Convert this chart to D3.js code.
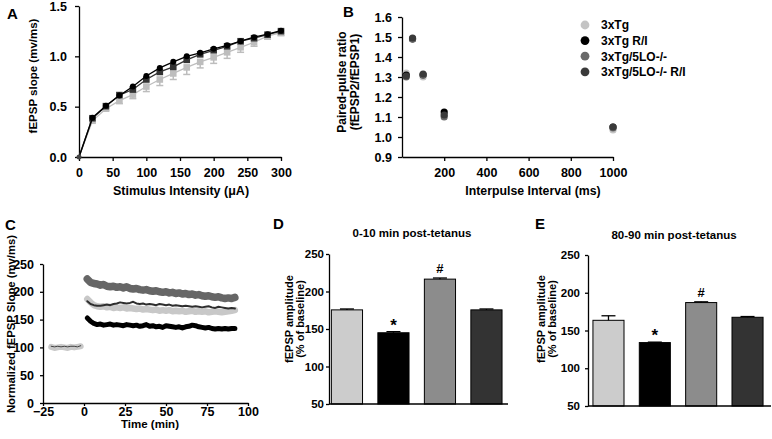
<!DOCTYPE html>
<html>
<head>
<meta charset="utf-8">
<script src="https://cdn.jsdelivr.net/npm/d3@7"></script>
<style>
body { margin: 0; background: #fff; }
svg { font-family: "Liberation Sans", Arial, sans-serif; font-weight: bold; }
.axis path, .axis line { stroke: #000; stroke-width: 1.3; }
.axis text { font-family: "Liberation Sans", Arial, sans-serif; font-weight: bold; fill: #000; }
</style>
</head>
<body>
<script>
// ---- data ----
var groups = ["3xTg", "3xTg R/I", "3xTg/5LO-/-", "3xTg/5LO-/- R/I"];

// A: input/output
var aX = [0, 20, 40, 60, 80, 100, 120, 140, 160, 180, 200, 220, 240, 260, 280, 300];
var aTg = [0, 0.36, 0.48, 0.56, 0.62, 0.70, 0.77, 0.83, 0.89, 0.945, 0.99, 1.04, 1.09, 1.14, 1.20, 1.235];
var aTgErr = [0, 0.02, 0.02, 0.03, 0.04, 0.05, 0.06, 0.06, 0.07, 0.06, 0.06, 0.06, 0.05, 0.04, 0.03, 0.03];
var aRI = [0, 0.39, 0.51, 0.61, 0.70, 0.805, 0.885, 0.945, 1.0, 1.035, 1.075, 1.11, 1.15, 1.19, 1.22, 1.255];
var aLoRI = [0, 0.385, 0.505, 0.615, 0.67, 0.77, 0.845, 0.895, 0.965, 1.02, 1.06, 1.10, 1.15, 1.18, 1.215, 1.25];

// B: paired-pulse
var bX = [20, 50, 100, 200, 1000];
var bTg = [1.32, 1.49, 1.30, 1.11, 1.035];
var bRI = [1.31, 1.49, 1.31, 1.125, 1.05];
var bLo = [1.30, 1.49, 1.31, 1.10, 1.045];
var bLoRI = [1.305, 1.495, 1.315, 1.11, 1.05];

// C: LTP time course
var cBaseT = [-20, -18, -16, -14, -12, -10, -8, -6, -4, -2];
var cBaseTg = [101, 99, 100, 101, 100, 99, 101, 100, 101, 102];
var cBaseLoRI = [102, 101, 102, 101, 102, 101, 102, 102, 101, 103];
var cT = [2, 4, 6, 8, 10, 12, 14, 16, 18, 20, 22, 24, 26, 28, 30, 32, 34, 36, 38, 40, 42, 44, 46,
          48, 50, 52, 54, 56, 58, 60, 62, 64, 66, 68, 70, 72, 74, 76, 78, 80, 82, 84, 86, 88, 90, 92];
var cLo = [223, 217, 215, 214, 212, 213, 210, 209, 210, 208, 209, 207, 209, 206, 205, 206, 204, 203, 204, 202,
           201, 202, 200, 199, 200, 198, 199, 197, 198, 196, 197, 195, 196, 194, 195, 193, 192, 193, 191, 190,
           191, 189, 188, 189, 188, 190];
var cTg = [187, 181, 176, 174, 173, 174, 172, 173, 171, 172, 171, 172, 170, 171, 170, 169, 170, 168, 169, 168,
           167, 168, 166, 167, 166, 167, 165, 166, 165, 166, 164, 165, 166, 164, 165, 164, 165, 163, 164, 165,
           164, 163, 164, 165, 166, 167];
var cLoRI = [183, 178, 176, 175, 175, 176, 177, 176, 178, 179, 181, 180, 179, 180, 182, 179, 178, 179, 177, 178,
             177, 176, 178, 177, 176, 177, 175, 176, 175, 174, 175, 174, 173, 174, 173, 172, 173, 174, 172, 171,
             173, 172, 171, 170, 171, 170];
var cRI = [153, 147, 143, 141, 142, 140, 141, 142, 140, 141, 140, 139, 141, 140, 139, 140, 138, 139, 141, 138,
           139, 137, 138, 136, 139, 138, 137, 136, 137, 135, 137, 138, 140, 139, 137, 136, 135, 136, 134, 133,
           134, 133, 134, 133, 134, 134];

// D, E: bar summaries
var dVals = [175.5, 145, 216.5, 175.5];
var dErr = [1.2, 1.5, 1.5, 1.2];
var eVals = [163.5, 134, 187, 167.5];
var eErr = [6, 0.6, 1, 1];
var dMarks = ["", "*", "#", ""];
var eMarks = ["", "*", "#", ""];

var lineCol = ["#c4c4c4", "#000000", "#6a6a6a", "#3a3a3a"];
var barCol = ["#cccccc", "#000000", "#8c8c8c", "#333333"];

var svg = d3.select("body").append("svg").attr("width", 772).attr("height", 439);

function label(x, y, txt, size, rot, anchor) {
  var t = svg.append("text").attr("font-size", size).attr("text-anchor", anchor || "middle").text(txt);
  if (rot) t.attr("transform", "translate(" + x + "," + y + ") rotate(" + rot + ")");
  else t.attr("x", x).attr("y", y);
  return t;
}

// ================= A =================
var xA = d3.scaleLinear().domain([0, 300]).range([79, 281]);
var yA = d3.scaleLinear().domain([0, 1.5]).range([157, 6]);
svg.append("g").attr("class", "axis").attr("transform", "translate(0,157)")
  .call(d3.axisBottom(xA).tickValues([0, 50, 100, 150, 200, 250, 300]).tickSize(4).tickSizeOuter(0).tickPadding(7))
  .selectAll("text").attr("font-size", 12.5);
svg.append("g").attr("class", "axis").attr("transform", "translate(79,0)")
  .call(d3.axisLeft(yA).tickValues([0, 0.5, 1.0, 1.5]).tickFormat(d3.format(".1f")).tickSize(4).tickSizeOuter(0).tickPadding(8))
  .selectAll("text").attr("font-size", 12.5);

var lineA = d3.line().x(function (d) { return xA(d[0]); }).y(function (d) { return yA(d[1]); });
function zipA(v) { return aX.map(function (x, i) { return [x, v[i]]; }); }

// 3xTg with downward error bars
var gTg = svg.append("g");
aX.forEach(function (x, i) {
  if (aTgErr[i] <= 0) return;
  gTg.append("line").attr("x1", xA(x)).attr("x2", xA(x)).attr("y1", yA(aTg[i])).attr("y2", yA(aTg[i] - aTgErr[i]))
    .attr("stroke", "#bdbdbd").attr("stroke-width", 1.5);
  gTg.append("line").attr("x1", xA(x) - 3.5).attr("x2", xA(x) + 3.5).attr("y1", yA(aTg[i] - aTgErr[i])).attr("y2", yA(aTg[i] - aTgErr[i]))
    .attr("stroke", "#bdbdbd").attr("stroke-width", 1.5);
});
gTg.append("path").attr("d", lineA(zipA(aTg))).attr("fill", "none").attr("stroke", "#bdbdbd").attr("stroke-width", 1.3);
gTg.selectAll("rect").data(zipA(aTg).slice(1)).enter().append("rect")
  .attr("x", function (d) { return xA(d[0]) - 3.3; }).attr("y", function (d) { return yA(d[1]) - 3.3; })
  .attr("width", 6.6).attr("height", 6.6).attr("fill", "#bdbdbd");

// 3xTg/5LO-/- R/I squares
var gLoRI = svg.append("g");
gLoRI.append("path").attr("d", lineA(zipA(aLoRI))).attr("fill", "none").attr("stroke", "#333").attr("stroke-width", 1.3);
gLoRI.selectAll("rect").data(zipA(aLoRI).slice(1)).enter().append("rect")
  .attr("x", function (d) { return xA(d[0]) - 3.3; }).attr("y", function (d) { return yA(d[1]) - 3.3; })
  .attr("width", 6.6).attr("height", 6.6).attr("fill", "#333");

// 3xTg R/I circles
var gRI = svg.append("g");
gRI.append("path").attr("d", lineA(zipA(aRI))).attr("fill", "none").attr("stroke", "#000").attr("stroke-width", 1.3);
gRI.selectAll("circle").data(zipA(aRI)).enter().append("circle")
  .attr("cx", function (d) { return xA(d[0]); }).attr("cy", function (d) { return yA(d[1]); })
  .attr("r", function (d, i) { return i === 0 ? 2.5 : 3; }).attr("fill", function (d, i) { return i === 0 ? "#444" : "#000"; });

label(7, 19, "A", 15, 0, "start");
label(37, 76, "fEPSP slope (mv/ms)", 11.5, -90);
label(181, 195, "Stimulus Intensity (\u03bcA)", 12.5);

// ================= B =================
var xB = d3.scaleLinear().domain([0, 1000]).range([402, 613]);
var yB = d3.scaleLinear().domain([0.9, 1.6]).range([157, 17]);
svg.append("g").attr("class", "axis").attr("transform", "translate(0,157)")
  .call(d3.axisBottom(xB).tickValues([200, 400, 600, 800, 1000]).tickFormat(d3.format("d")).tickSize(4).tickSizeOuter(0).tickPadding(7))
  .selectAll("text").attr("font-size", 12.5);
svg.append("g").attr("class", "axis").attr("transform", "translate(402,0)")
  .call(d3.axisLeft(yB).tickValues([0.9, 1.0, 1.1, 1.2, 1.3, 1.4, 1.5, 1.6]).tickFormat(d3.format(".1f")).tickSize(4).tickSizeOuter(0).tickPadding(6))
  .selectAll("text").attr("font-size", 12.5);

var bSeries = [bTg, bRI, bLo, bLoRI];
bSeries.forEach(function (vals, k) {
  svg.append("g").selectAll("circle").data(vals).enter().append("circle")
    .attr("cx", function (d, i) { return xB(bX[i]); }).attr("cy", function (d) { return yB(d); })
    .attr("r", 3.6).attr("fill", lineCol[k]);
});

var leg = svg.append("g");
groups.forEach(function (g, k) {
  var yy = 25 + k * 15.6;
  leg.append("circle").attr("cx", 585).attr("cy", yy).attr("r", 4.4).attr("fill", lineCol[k]);
  leg.append("text").attr("x", 601).attr("y", yy + 4.3).attr("font-size", 12).text(g);
});

label(343, 17, "B", 15, 0, "start");
label(346, 82, "Paired-pulse ratio", 12, -90);
label(359, 82, "(fEPSP2/fEPSP1)", 12, -90);
label(533, 195, "Interpulse Interval (ms)", 12.3);

// ================= C =================
var xC = d3.scaleLinear().domain([-25, 100]).range([43, 248]);
var yC = d3.scaleLinear().domain([0, 250]).range([403, 264]);
svg.append("g").attr("class", "axis").attr("transform", "translate(0,403)")
  .call(d3.axisBottom(xC).tickValues([-25, 0, 25, 50, 75, 100]).tickSize(3).tickSizeOuter(0).tickPadding(1))
  .selectAll("text").attr("font-size", 12.5);
svg.append("g").attr("class", "axis").attr("transform", "translate(43,0)")
  .call(d3.axisLeft(yC).tickValues([0, 50, 100, 150, 200, 250]).tickSize(3).tickSizeOuter(0).tickPadding(6))
  .selectAll("text").attr("font-size", 12.5);

var lineC = d3.line().x(function (d) { return xC(d[0]); }).y(function (d) { return yC(d[1]); });
function zipC(t, v) { return t.map(function (x, i) { return [x, v[i]]; }); }
function bandC(t, v, col, w) {
  svg.append("path").attr("d", lineC(zipC(t, v))).attr("fill", "none").attr("stroke", col)
    .attr("stroke-width", w).attr("stroke-linejoin", "round").attr("stroke-linecap", "round");
}
bandC(cT, cLo, "#666666", 7.5);
bandC(cBaseT, cBaseTg, "#c8c8c8", 6);
bandC(cBaseT, cBaseLoRI, "#444444", 1);
bandC(cT, cTg, "#c8c8c8", 6.5);
bandC(cT, cLoRI, "#2e2e2e", 2);
bandC(cT, cRI, "#000000", 5);

label(5, 230, "C", 15, 0, "start");
label(15, 324, "Normalized fEPSP Slope (mv/ms)", 11.3, -90);
label(150, 428, "Time (min)", 11.5);

// ================= D & E =================
function barPanel(opt) {
  var x = d3.scaleBand().domain(groups).range(opt.xr).paddingInner(0.33).paddingOuter(0.165);
  var y = d3.scaleLinear().domain([50, 250]).range(opt.yr);
  svg.append("g").attr("class", "axis").attr("transform", "translate(" + opt.ax + ",0)")
    .call(d3.axisLeft(y).tickValues([50, 100, 150, 200, 250]).tickSize(3).tickSizeOuter(0).tickPadding(opt.pad))
    .selectAll("text").attr("font-size", 11.5);
  var g = svg.append("g");
  g.selectAll("rect").data(opt.vals).enter().append("rect")
    .attr("x", function (d, i) { return x(groups[i]); })
    .attr("y", function (d) { return y(d); })
    .attr("width", x.bandwidth())
    .attr("height", function (d) { return y(50) - y(d); })
    .attr("fill", function (d, i) { return barCol[i]; })
    .attr("stroke", "#000").attr("stroke-width", 1);
  opt.vals.forEach(function (v, i) {
    var cx = x(groups[i]) + x.bandwidth() / 2;
    g.append("line").attr("x1", cx).attr("x2", cx).attr("y1", y(v)).attr("y2", y(v + opt.err[i])).attr("stroke", "#000").attr("stroke-width", 1.3);
    g.append("line").attr("x1", cx - 7).attr("x2", cx + 7).attr("y1", y(v + opt.err[i])).attr("y2", y(v + opt.err[i])).attr("stroke", "#000").attr("stroke-width", 1.3);
    if (opt.marks[i] === "*") label(cx, y(v + opt.err[i]) - 1, "*", 17);
    if (opt.marks[i] === "#") label(cx, y(v + opt.err[i]) - 5, "#", 13);
  });
  // x axis line
  svg.append("line").attr("x1", opt.ax).attr("x2", opt.xEnd).attr("y1", y(50)).attr("y2", y(50))
    .attr("stroke", "#000").attr("stroke-width", 1.3);
  label(opt.letter[1], 229, opt.letter[0], 15, 0, "start");
  label(opt.title[1], opt.title[2], opt.title[0], 11.5);
  label(opt.yt1, 319, "fEPSP amplitude", 11, -90);
  label(opt.yt2, 319, "(% of baseline)", 11, -90);
}

barPanel({ vals: dVals, err: dErr, marks: dMarks, xr: [323.7, 509.7], yr: [404, 254], ax: 329, xEnd: 508, pad: 2,
  letter: ["D", 273], title: ["0-10 min post-tetanus", 412, 237], yt1: 293, yt2: 304 });
barPanel({ vals: eVals, err: eErr, marks: eMarks, xr: [585.3, 770.7], yr: [406, 255], ax: 588, xEnd: 771, pad: 5,
  letter: ["E", 535], title: ["80-90 min post-tetanus", 674, 239], yt1: 545, yt2: 556 });
</script>
</body>
</html>
